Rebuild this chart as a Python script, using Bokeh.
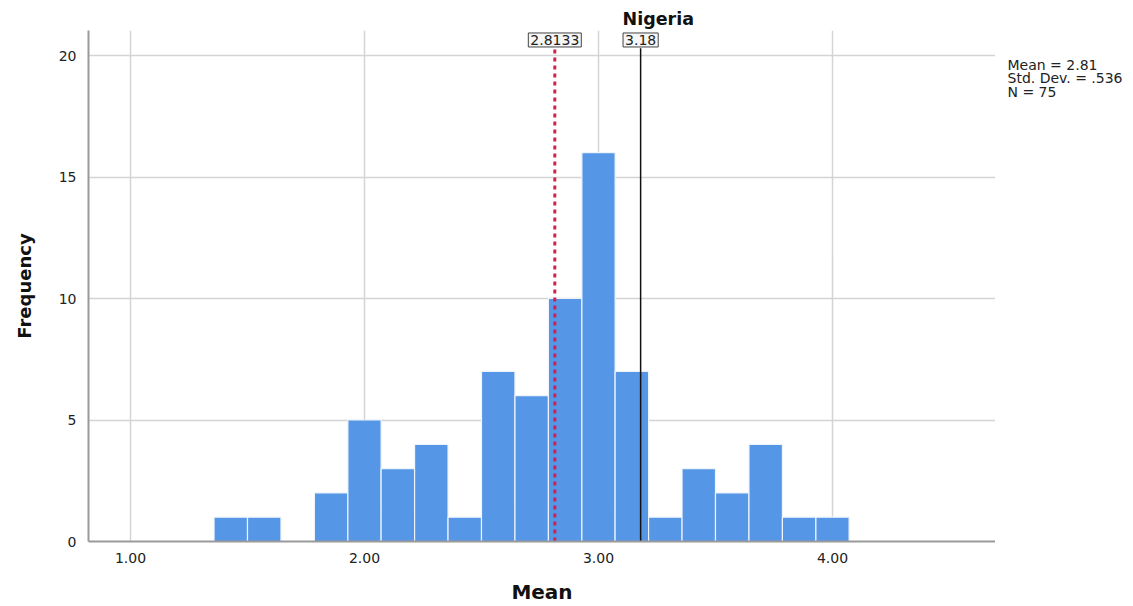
from bokeh.plotting import figure
from bokeh.models import Label, Range1d, FixedTicker, Title
from bokeh.layouts import row
from bokeh.embed import file_html
from bokeh.resources import INLINE

# Histogram data (bin edges and counts)
bin_left = [1.357, 1.500, 1.643, 1.786, 1.929, 2.071, 2.214, 2.357, 2.500, 2.643,
            2.786, 2.929, 3.071, 3.214, 3.357, 3.500, 3.643, 3.786, 3.929]
bin_right = [1.500, 1.643, 1.786, 1.929, 2.071, 2.214, 2.357, 2.500, 2.643, 2.786,
             2.929, 3.071, 3.214, 3.357, 3.500, 3.643, 3.786, 3.929, 4.071]
counts = [1, 1, 0, 2, 5, 3, 4, 1, 7, 6, 10, 16, 7, 1, 3, 2, 4, 1, 1]

mean_value = 2.8133
mean_label = "2.8133"
country_value = 3.18
country_label = "3.18"
country_name = "Nigeria"
stats_lines = ["Mean = 2.81", "Std. Dev. = .536", "N = 75"]
x_ticks = [1.0, 2.0, 3.0, 4.0]
x_tick_labels = {1.0: "1.00", 2.0: "2.00", 3.0: "3.00", 4.0: "4.00"}
y_ticks = [0, 5, 10, 15, 20]

FONT = "DejaVu Sans"
H = 606
FRAME_H = 511  # pixel height of the plot frame (30 -> 541)

p = figure(width=995, height=H, output_backend="svg", toolbar_location=None,
           x_range=Range1d(0.8205, 4.6966), y_range=Range1d(0, 21.03),
           min_border_left=88, min_border_right=0, min_border_top=30,
           min_border_bottom=65)
p.outline_line_color = None
p.background_fill_color = "white"

p.title = Title(text=country_name, align="left", offset=534, standoff=4,
                text_font=FONT, text_font_size="17.5px", text_font_style="bold",
                text_color="#111111")

p.xaxis.ticker = FixedTicker(ticks=x_ticks)
p.xaxis.major_label_overrides = x_tick_labels
p.yaxis.ticker = FixedTicker(ticks=y_ticks)

for ax in (p.xaxis, p.yaxis):
    ax.axis_line_color = "#9a9a9a"
    ax.axis_line_width = 2
    ax.major_tick_line_color = None
    ax.minor_tick_line_color = None
    ax.major_label_text_font = FONT
    ax.major_label_text_font_size = "14px"
    ax.major_label_text_color = "#222222"
    ax.axis_label_text_font = FONT
    ax.axis_label_text_font_style = "bold"
    ax.axis_label_text_color = "#111111"

p.xaxis.axis_label = "Mean"
p.xaxis.axis_label_text_font_size = "20px"
p.xaxis.major_label_standoff = 5
p.xaxis.axis_label_standoff = 14
p.yaxis.axis_label = "Frequency"
p.yaxis.axis_label_text_font_size = "18px"
p.yaxis.major_label_standoff = 6
p.yaxis.axis_label_standoff = 21

p.xgrid.grid_line_color = "#d4d4d4"
p.xgrid.grid_line_width = 1.5
p.ygrid.grid_line_color = "#d4d4d4"
p.ygrid.grid_line_width = 1.5

p.quad(left=bin_left, right=bin_right, bottom=0, top=counts,
       fill_color="#5596e6", line_color="#eef4fc", line_width=1.2)

# reference lines
p.segment(x0=[mean_value], y0=[0], x1=[mean_value], y1=[20.3],
          line_color="#d91e48", line_width=3, line_dash="4 4")
p.segment(x0=[country_value], y0=[0], x1=[country_value], y1=[20.3],
          line_color="#111111", line_width=1.5)

for xv, txt in ((mean_value, mean_label), (country_value, country_label)):
    p.add_layout(Label(x=xv, y=20.64, text=txt, text_align="center",
                       text_baseline="middle", text_font=FONT,
                       text_font_size="14px", text_color="#222222",
                       border_line_color="#444444", border_line_width=1,
                       background_fill_color="#f6f6f6",
                       padding=2))

# statistics panel on the right (its frame is aligned with the main frame)
side = figure(width=138, height=H, output_backend="svg", toolbar_location=None,
              title=None, x_axis_type=None, y_axis_type=None,
              x_range=Range1d(0, 138), y_range=Range1d(0, FRAME_H),
              min_border_left=0, min_border_right=0, min_border_top=30,
              min_border_bottom=65)
side.grid.visible = False
side.outline_line_color = None
side.text(x=[12] * len(stats_lines),
          y=[FRAME_H - 26 - 13.5 * i for i in range(len(stats_lines))],
          text=stats_lines, text_baseline="top", text_align="left",
          text_font={"value": FONT}, text_font_size={"value": "14px"},
          text_color="#222222")

layout = row(p, side)
open("out.html", "w").write(file_html(layout, INLINE))
